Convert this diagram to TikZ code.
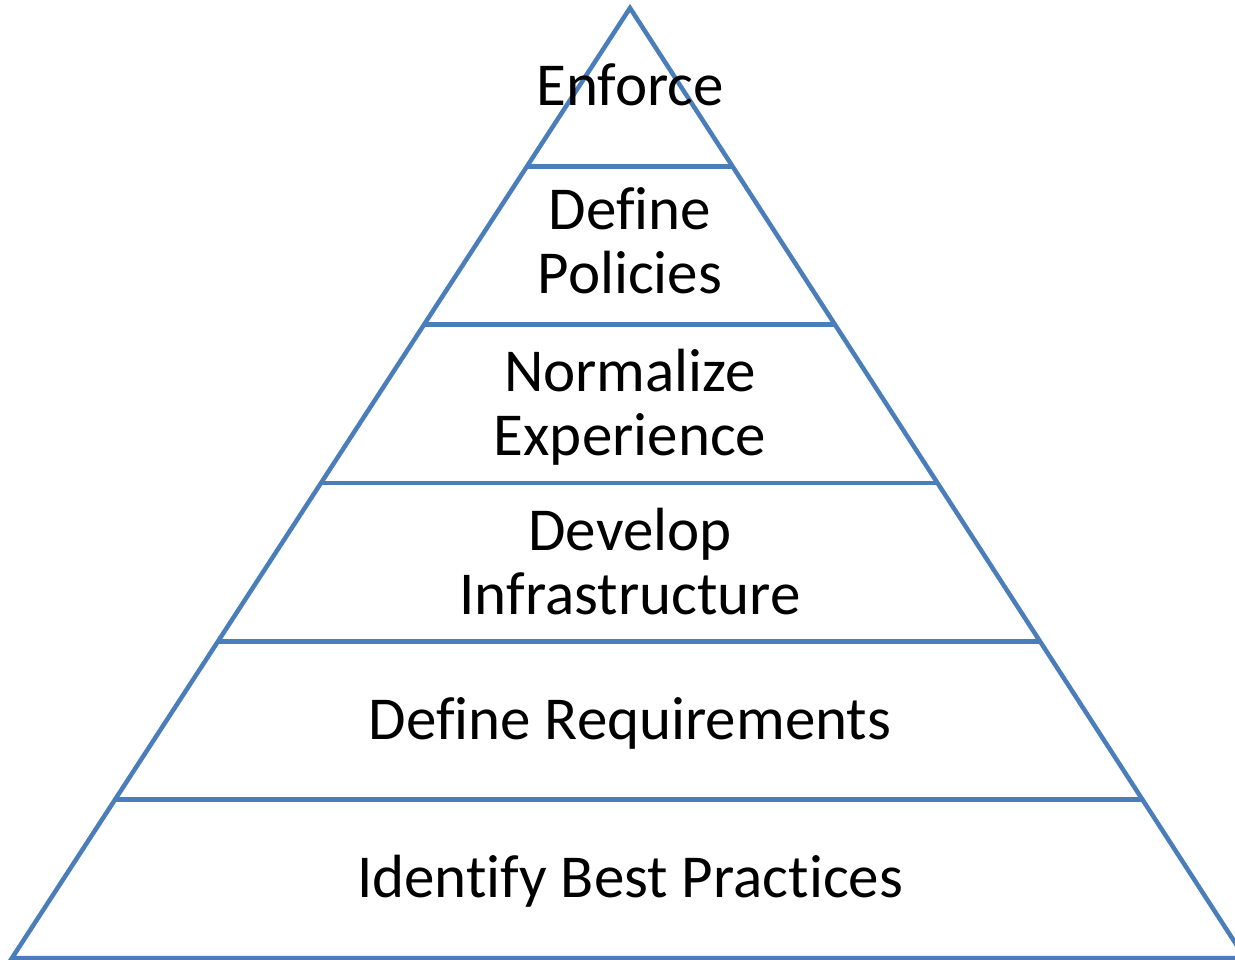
\documentclass[tikz,border=0pt]{standalone}
\usepackage{fontspec}
\setmainfont{Carlito}[Ligatures=NoCommon]
\usetikzlibrary{calc}
\definecolor{pyrblue}{HTML}{4A7EBB}
\tikzset{
  edge/.style={draw=pyrblue, line width=4.5pt},
  label/.style={font=\fontsize{61}{64}\selectfont, align=center, inner sep=0pt, anchor=base, text=black}
}
\begin{document}
\begin{tikzpicture}[x=1pt,y=-1pt]
\useasboundingbox (0,0) rectangle (1235,960);
\coordinate (A) at (630,8);
\coordinate (L) at (12,958);
\coordinate (R) at (1245,958);
\begin{scope}
\clip (0,0) rectangle (1235,960);
\draw[edge, line join=miter] (L) -- (A) -- (R) -- cycle;
\foreach \k in {1,...,5}{
  \draw[edge] ($(A)!\k/6!(L)$) -- ($(A)!\k/6!(R)$);
}
\end{scope}
\node[label] (enforce) at (630,106) {Enforce};
\node[label] (policies) at (630,294) {Define\\Policies};
\node[label] (normalize) at (630,455) {Normalize\\Experience};
\node[label] (develop) at (630,614) {Develop\\Infrastructure};
\node[label] (requirements) at (630,739) {Define Requirements};
\node[label] (practices) at (630,897) {Identify Best Practices};
\end{tikzpicture}
\end{document}
